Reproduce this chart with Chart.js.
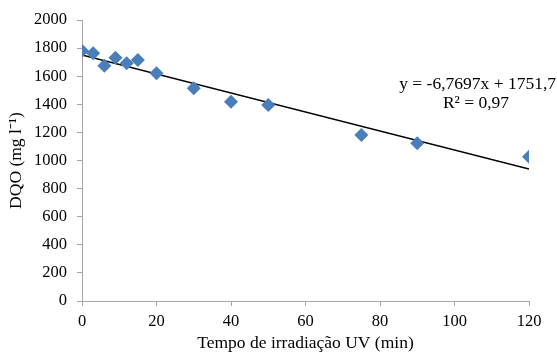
<!DOCTYPE html>
<html lang="pt-br">
<head>
  <meta charset="UTF-8" />
  <title>DQO x Tempo de irradiação UV</title>
  <script src="https://cdn.jsdelivr.net/npm/chart.js"></script>
  <style>
    * { box-sizing: border-box; }
    html, body { margin: 0; padding: 0; background: #ffffff; }
    .wrap { width: 557px; height: 355px; position: relative; }
  </style>
</head>
<body>
  <div class="wrap">
    <canvas id="grafico"></canvas>
  </div>

  <script>
    // tempo (min) e DQO (mg/l)
    const tempos = [0, 3, 6, 9, 12, 15, 20, 30, 40, 50, 75, 90, 120];
    const dqo = [1781, 1763, 1675, 1732, 1692, 1715, 1621, 1514, 1419, 1395, 1181, 1122, 1027];

    // linha de tendência (extremos)
    const tendX = [0, 120];
    const tendY = [1751.7, 939.3];

    const eqTexto = 'y = -6,7697x + 1751,7';
    const r2Texto = 'R² = 0,97';

    const fonte = "'Liberation Serif', 'Times New Roman', serif";
    const cinza = '#a6a6a6';

    const pontos = tempos.map((t, i) => ({ x: t, y: dqo[i] }));
    const tendencia = tendX.map((t, i) => ({ x: t, y: tendY[i] }));

    const equacao = {
      id: 'equacao',
      afterDraw(chart) {
        const ctx = chart.ctx;
        ctx.save();
        ctx.fillStyle = '#000';
        ctx.font = '17.5px ' + fonte;
        ctx.textBaseline = 'middle';
        ctx.textAlign = 'right';
        ctx.fillText(eqTexto, 556, 84);
        ctx.textAlign = 'center';
        ctx.fillText(r2Texto, 476, 103);
        ctx.restore();
      }
    };

    const ctx = document.getElementById('grafico').getContext('2d');
    new Chart(ctx, {
      type: 'scatter',
      data: {
        datasets: [{
          data: pontos,
          pointStyle: 'rectRot',
          pointRadius: 7,
          backgroundColor: '#4a7ebb',
          borderColor: '#4a7ebb',
          borderWidth: 0
        }, {
          type: 'line',
          data: tendencia,
          borderColor: '#000',
          borderWidth: 1.5,
          pointRadius: 0,
          fill: false
        }]
      },
      options: {
        responsive: true,
        maintainAspectRatio: false,
        animation: false,
        layout: { padding: { top: 20, right: 28, left: 0, bottom: 0 } },
        plugins: {
          legend: { display: false },
          tooltip: { enabled: false }
        },
        scales: {
          x: {
            type: 'linear',
            min: 0,
            max: 120,
            ticks: { stepSize: 20, color: '#000', padding: 6, font: { family: fonte, size: 16.5 } },
            grid: { drawOnChartArea: false, drawTicks: true, tickLength: 5, color: cinza },
            border: { color: cinza },
            title: { display: true, text: 'Tempo de irradiação UV (min)', color: '#000', padding: { top: 8, bottom: 1 }, font: { family: fonte, size: 17.5 } },
            afterFit(s) { s.height = 54; }
          },
          y: {
            min: 0,
            max: 2000,
            ticks: { stepSize: 200, color: '#000', padding: 10, font: { family: fonte, size: 16.5 }, callback: v => String(v) },
            grid: { drawOnChartArea: false, drawTicks: true, tickLength: 5, color: cinza },
            border: { color: cinza },
            title: { display: true, text: 'DQO (mg l⁻¹)', color: '#000', padding: { bottom: 0, top: 6 }, font: { family: fonte, size: 17.5 } },
            afterFit(s) { s.width = 82; }
          }
        }
      },
      plugins: [equacao]
    });
  </script>
</body>
</html>
